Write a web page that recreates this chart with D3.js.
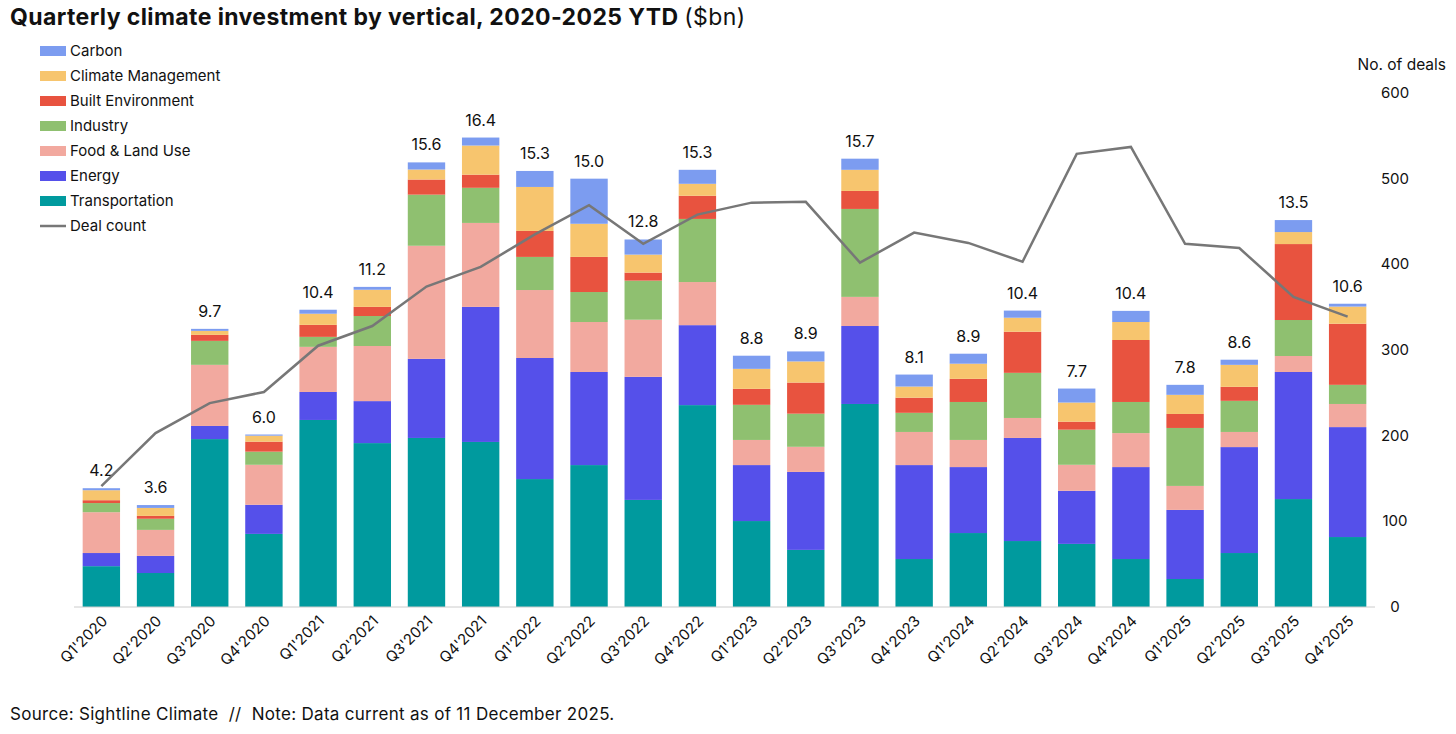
<!DOCTYPE html>
<html><head><meta charset="utf-8">
<script src="https://cdn.jsdelivr.net/npm/d3@7"></script>
<style>body{margin:0;background:#fff;font-family:Inter,"Noto Sans",sans-serif}</style>
</head><body><svg id="c" width="1456" height="734"></svg>
<script>
const quarters=["Q1'2020","Q2'2020","Q3'2020","Q4'2020","Q1'2021","Q2'2021","Q3'2021","Q4'2021","Q1'2022","Q2'2022","Q3'2022","Q4'2022","Q1'2023","Q2'2023","Q3'2023","Q4'2023","Q1'2024","Q2'2024","Q3'2024","Q4'2024","Q1'2025","Q2'2025","Q3'2025","Q4'2025"];
const totals=[4.2,3.6,9.7,6.0,10.4,11.2,15.6,16.4,15.3,15.0,12.8,15.3,8.8,8.9,15.7,8.1,8.9,10.4,7.7,10.4,7.8,8.6,13.5,10.6];
const transportation=[1.43,1.19,5.88,2.56,6.55,5.74,5.92,5.78,4.48,4.97,3.75,7.07,3.01,2.0,7.11,1.68,2.59,2.31,2.21,1.68,0.98,1.89,3.78,2.45];
const energy=[0.46,0.6,0.46,1.02,0.98,1.47,2.77,4.73,4.24,3.26,4.31,2.8,1.96,2.73,2.73,3.29,2.31,3.61,1.86,3.22,2.42,3.71,4.45,3.85];
const foodLand=[1.43,0.91,2.14,1.4,1.58,1.93,3.96,2.94,2.38,1.75,2.0,1.51,0.88,0.88,1.02,1.16,0.95,0.7,0.91,1.19,0.84,0.53,0.56,0.81];
const industry=[0.32,0.39,0.84,0.46,0.35,1.05,1.79,1.23,1.16,1.05,1.37,2.21,1.23,1.16,3.08,0.67,1.33,1.58,1.23,1.09,2.03,1.09,1.26,0.67];
const built=[0.1,0.1,0.21,0.35,0.42,0.32,0.53,0.46,0.91,1.23,0.28,0.81,0.56,1.09,0.63,0.53,0.81,1.44,0.28,2.17,0.49,0.49,2.66,2.14];
const climateMgmt=[0.35,0.28,0.14,0.21,0.39,0.6,0.35,1.02,1.54,1.16,0.63,0.42,0.7,0.74,0.74,0.39,0.53,0.49,0.67,0.63,0.67,0.77,0.42,0.6];
const carbon=[0.07,0.1,0.07,0.04,0.14,0.1,0.25,0.28,0.56,1.58,0.53,0.49,0.46,0.35,0.39,0.42,0.35,0.25,0.49,0.39,0.35,0.18,0.42,0.1];
const dealCount=[141,203,238,251,305,328,374,397,435,469,424,458,472,473,402,437,425,403,529,537,424,419,362,339];
const rightTicks=[0,100,200,300,400,500,600];

const series=[
 {name:"Transportation",vals:transportation,color:"#009A9E"},
 {name:"Energy",vals:energy,color:"#5550EA"},
 {name:"Food & Land Use",vals:foodLand,color:"#F2A99F"},
 {name:"Industry",vals:industry,color:"#8FC070"},
 {name:"Built Environment",vals:built,color:"#E8533F"},
 {name:"Climate Management",vals:climateMgmt,color:"#F7C56E"},
 {name:"Carbon",vals:carbon,color:"#7C9CF0"}];

const svg=d3.select("#c");
const x=d3.scaleBand().domain(quarters).range([74,1375]).paddingInner(0.31).paddingOuter(0.16);
const y=d3.scaleLinear().domain([0,18]).range([607,93]);
const yr=d3.scaleLinear().domain([0,600]).range([607,93]);

const stackData=quarters.map((q,i)=>{const o={q};series.forEach(s=>o[s.name]=s.vals[i]);return o;});
const stack=d3.stack().keys(series.map(s=>s.name))(stackData);
stack.forEach((layer,k)=>{
 svg.append("g").attr("fill",series[k].color).selectAll("rect").data(layer).join("rect")
  .attr("x",d=>x(d.data.q)).attr("width",x.bandwidth())
  .attr("y",d=>y(d[1])).attr("height",d=>y(d[0])-y(d[1]));
});
const tops=quarters.map((q,i)=>series.reduce((a,s)=>a+s.vals[i],0));
svg.append("g").selectAll("text").data(quarters).join("text")
 .attr("x",q=>x(q)+x.bandwidth()/2).attr("y",(q,i)=>y(tops[i])-12)
 .attr("text-anchor","middle").attr("font-size",16).attr("fill","#111")
 .text((q,i)=>totals[i].toFixed(1));
svg.append("line").attr("x1",74).attr("x2",1375).attr("y1",607).attr("y2",607).attr("stroke","#ccc");
svg.append("g").selectAll("text").data(quarters).join("text")
 .attr("transform",q=>`translate(${x(q)+x.bandwidth()/2+7},${622}) rotate(-45)`)
 .attr("text-anchor","end").attr("font-size",15).attr("fill","#111").text(q=>q);
const line=d3.line().x((d,i)=>x(quarters[i])+x.bandwidth()/2).y(d=>yr(d));
svg.append("path").datum(dealCount).attr("d",line).attr("fill","none").attr("stroke","#777").attr("stroke-width",2.5);
svg.append("g").selectAll("text").data(rightTicks).join("text")
 .attr("x",1395).attr("y",d=>yr(d)+5).attr("text-anchor","middle").attr("font-size",15).attr("fill","#111").text(d=>d);
svg.append("text").attr("x",1446).attr("y",70).attr("text-anchor","end").attr("font-size",15.5).attr("fill","#111").text("No. of deals");
const t=svg.append("text").attr("x",10).attr("y",25).attr("font-size",23).attr("letter-spacing",0.4).attr("fill","#111");
t.append("tspan").attr("font-weight","bold").text("Quarterly climate investment by vertical, 2020-2025 YTD ");
t.append("tspan").text("($bn)");
const leg=[...series].reverse().map(s=>({name:s.name,color:s.color,type:"rect"}));
leg.push({name:"Deal count",color:"#777",type:"line"});
const lg=svg.append("g").selectAll("g").data(leg).join("g").attr("transform",(d,i)=>`translate(40,${51+i*25})`);
lg.filter(d=>d.type==="rect").append("rect").attr("x",0).attr("y",-5).attr("width",26).attr("height",10).attr("fill",d=>d.color);
lg.filter(d=>d.type==="line").append("line").attr("x1",0).attr("x2",26).attr("stroke",d=>d.color).attr("stroke-width",2.5);
lg.append("text").attr("x",30).attr("y",5).attr("font-size",15).attr("fill","#111").text(d=>d.name);
svg.append("text").attr("x",10).attr("y",720).attr("font-size",17).attr("letter-spacing",0.3).attr("fill","#111").style("white-space","pre")
 .text("Source: Sightline Climate  //  Note: Data current as of 11 December 2025.");
</script></body></html>
